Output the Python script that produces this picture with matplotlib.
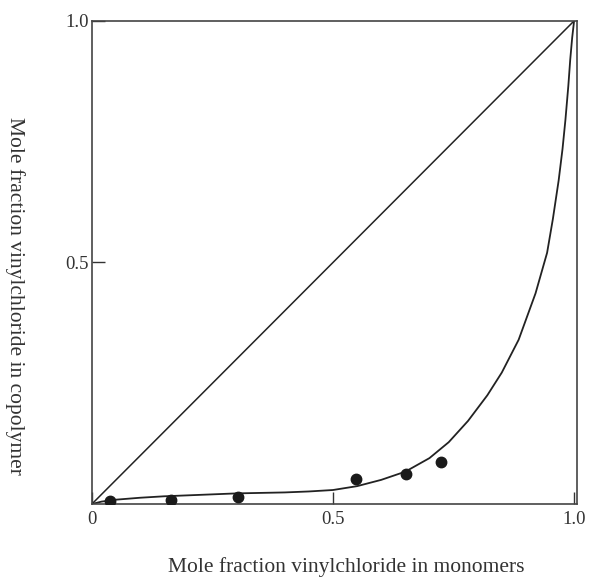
import matplotlib
matplotlib.use("Agg")
import matplotlib.pyplot as plt

# Experimental points: mole fraction VC in monomers vs in copolymer
x_pts = [0.037, 0.165, 0.303, 0.547, 0.651, 0.725]
y_pts = [0.007, 0.009, 0.015, 0.051, 0.062, 0.088]

# Theoretical composition curve
x_curve = [0.0, 0.02, 0.05, 0.1, 0.15, 0.2, 0.25, 0.3, 0.35, 0.4, 0.45, 0.5,
           0.55, 0.6, 0.65, 0.7, 0.74, 0.78, 0.82, 0.85, 0.885, 0.92, 0.944,
           0.956, 0.968, 0.976, 0.982, 0.988, 0.992, 0.996, 1.0]
y_curve = [0.0, 0.005, 0.009, 0.013, 0.016, 0.018, 0.020, 0.022, 0.023, 0.024,
           0.026, 0.029, 0.037, 0.050, 0.067, 0.095, 0.128, 0.172, 0.225, 0.272,
           0.340, 0.436, 0.520, 0.590, 0.670, 0.735, 0.795, 0.865, 0.920, 0.965, 1.0]

diag = [0.0, 1.0]

x_ticks = [0, 0.5, 1.0]
x_ticklabels = ["0", "0.5", "1.0"]
y_ticks = [0.5, 1.0]
y_ticklabels = ["0.5", "1.0"]

plt.rcParams['font.family'] = ['Liberation Serif', 'DejaVu Serif']

fig = plt.figure(figsize=(5.93, 5.80), dpi=100)
ax = fig.add_axes([0.155, 0.131, 0.818, 0.833])

ax.plot(diag, diag, color='#222222', lw=1.1)
ax.plot(x_curve, y_curve, color='#222222', lw=1.3)
ax.plot(x_pts, y_pts, 'o', color='#1a1a1a', markersize=7.5, zorder=5)

ax.set_xlim(0, 1.006)
ax.set_ylim(0, 1.0)

ax.set_xticks(x_ticks)
ax.set_xticklabels(x_ticklabels)
ax.set_yticks(y_ticks)
ax.set_yticklabels(y_ticklabels)
ax.tick_params(direction='in', length=9, width=1.0, labelsize=13.5, pad=5, colors='#333333')
ax.tick_params(axis='y', pad=2)

for s in ax.spines.values():
    s.set_color('#444444')
    s.set_linewidth(1.2)

fig.text(0.584, 0.022, "Mole fraction vinylchloride in monomers", ha='center', va='center',
         fontsize=15.5, color='#333333')
fig.text(0.025, 0.49, "Mole fraction vinylchloride in copolymer", ha='center', va='center',
         rotation=270, fontsize=15.5, color='#333333')

fig.savefig("out.png", dpi=100)
